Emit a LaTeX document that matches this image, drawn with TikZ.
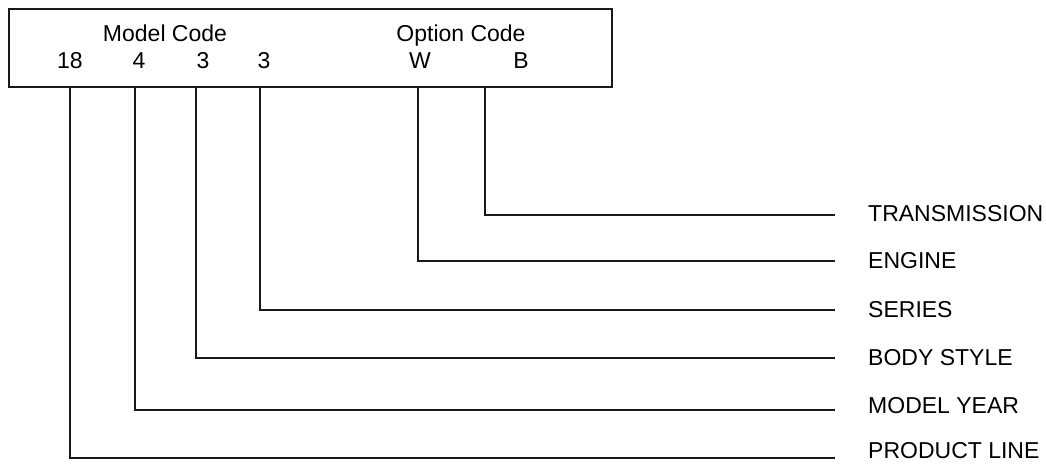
\documentclass[tikz,border=0pt]{standalone}
\usepackage{fontspec}
\setmainfont{Liberation Sans}
\usetikzlibrary{positioning}

\begin{document}
\begin{tikzpicture}[x=1pt,y=-1pt,
  txt/.style={font=\fontsize{23}{27}\selectfont,inner sep=0pt},
  lead/.style={line width=2.4pt,color=black!90}]
\useasboundingbox (0,0) rectangle (1046,464);
% Code box
\node[draw,lead,minimum width=603pt,minimum height=78pt,inner sep=0pt] (codebox) at (310.5,48) {};
\node[txt,anchor=base] (model) at (165,41) {Model Code};
\node[txt,anchor=base] (option) at (461,41) {Option Code};
% Code digits
\node[txt,anchor=base] (d18) at (70,68) {18};
\node[txt,anchor=base] (d4) at (139,68) {4};
\node[txt,anchor=base] (d3a) at (203,68) {3};
\node[txt,anchor=base] (d3b) at (264,68) {3};
\node[txt,anchor=base] (dw) at (420,68) {W};
\node[txt,anchor=base] (db) at (521,68) {B};
% Leads from the box bottom
\coordinate (t18) at (70,87);
\coordinate (t4) at (135,87);
\coordinate (t3a) at (196,87);
\coordinate (t3b) at (260,87);
\coordinate (tw) at (418,87);
\coordinate (tb) at (485,87);
% Lead ends
\coordinate (eb) at (835,215);
\coordinate (ew) at (835,261);
\coordinate (e3b) at (835,310);
\coordinate (e3a) at (835,358);
\coordinate (e4) at (835,410);
\coordinate (e18) at (835,458);
\draw[lead] (tb) |- (eb);
\draw[lead] (tw) |- (ew);
\draw[lead] (t3b) |- (e3b);
\draw[lead] (t3a) |- (e3a);
\draw[lead] (t4) |- (e4);
\draw[lead] (t18) |- (e18);
% Labels
\node[txt,right=33pt of eb,yshift=1.5pt] (trans) {TRANSMISSION};
\node[txt,right=33pt of ew] (engine) {ENGINE};
\node[txt,right=33pt of e3b] (series) {SERIES};
\node[txt,right=33pt of e3a] (body) {BODY STYLE};
\node[txt,right=33pt of e4,yshift=4pt] (year) {MODEL YEAR};
\node[txt,right=33pt of e18,yshift=7pt] (line) {PRODUCT LINE};
\end{tikzpicture}
\end{document}
